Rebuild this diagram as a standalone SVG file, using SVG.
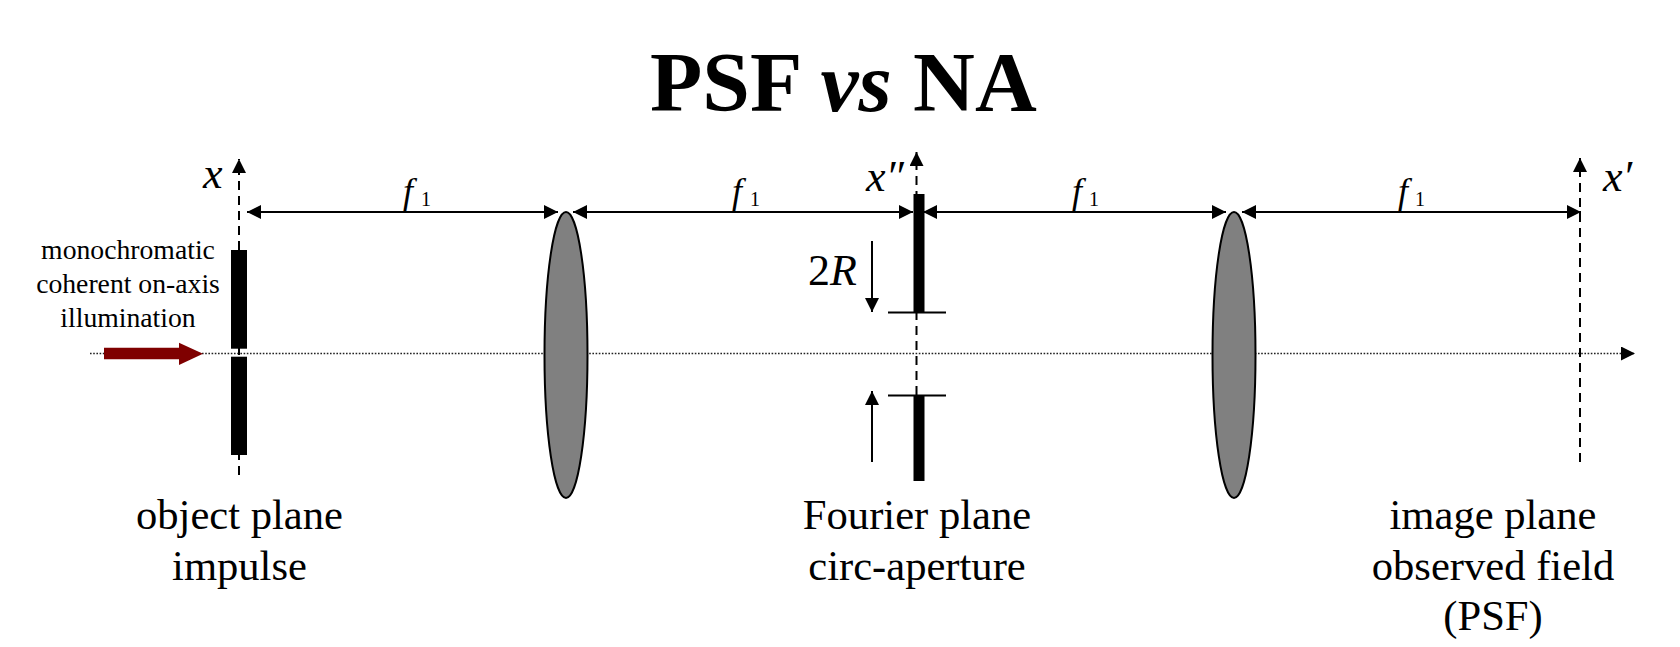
<svg xmlns="http://www.w3.org/2000/svg" width="1680" height="647" viewBox="0 0 1680 647">
<style>
text{font-family:"Liberation Serif","Times New Roman",serif;fill:#000}
.title{font-size:85.6px;font-weight:bold}
.cap{font-size:42.6px;text-anchor:middle}
.small{font-size:27.7px;text-anchor:middle}
.var{font-size:44px;font-style:italic}
.f{font-size:36px;font-style:italic}
.sub{font-size:20px}
.axis{stroke:#222;stroke-width:1.6;stroke-dasharray:1.6 1.6;fill:none}
.dash{stroke:#000;stroke-width:2;stroke-dasharray:9 6;fill:none}
.line{stroke:#000;stroke-width:2;fill:none}
.lens{fill:#808080;stroke:#000;stroke-width:2}
.h{fill:#000}
</style>
<defs>
<marker id="a" viewBox="0 0 14 14" refX="14" refY="7" markerWidth="14" markerHeight="14" markerUnits="userSpaceOnUse" orient="auto-start-reverse"><path d="M0 0L14 7L0 14Z" class="h"/></marker>
</defs>
<rect width="1680" height="647" fill="#fff"/>
<g id="connectors">
<line class="axis" x1="90" y1="353.5" x2="1635" y2="353.5" marker-end="url(#a)"/>
<line class="dash" x1="239" y1="475" x2="239" y2="159" marker-end="url(#a)"/>
<line class="dash" x1="916.5" y1="395" x2="916.5" y2="152" marker-end="url(#a)"/>
<line class="dash" x1="1580" y1="462" x2="1580" y2="158" marker-end="url(#a)"/>
<line class="line" x1="247" y1="212" x2="558" y2="212" marker-start="url(#a)" marker-end="url(#a)"/>
<line class="line" x1="573" y1="212" x2="913" y2="212" marker-start="url(#a)" marker-end="url(#a)"/>
<line class="line" x1="923" y1="212" x2="1226" y2="212" marker-start="url(#a)" marker-end="url(#a)"/>
<line class="line" x1="1242" y1="212" x2="1581" y2="212" marker-start="url(#a)" marker-end="url(#a)"/>
<line class="line" x1="872" y1="241" x2="872" y2="312" marker-end="url(#a)"/>
<line class="line" x1="872" y1="462" x2="872" y2="391" marker-end="url(#a)"/>
<path d="M104 347.7H179V342.7L203 353.8L179 365V359.3H104Z" fill="#7f0000"/>
</g>
<g id="title"><text class="title" x="650" y="111">PSF <tspan font-style="italic">vs</tspan> NA</text></g>
<g id="object-plane">
<rect x="231" y="250" width="16" height="98.7"/>
<rect x="231" y="356.7" width="16" height="98.3"/>
<text class="var" x="203" y="188" font-size="42">x</text>
<text class="cap" x="239.500" y="529">object plane</text>
<text class="cap" x="239.500" y="580">impulse</text>
</g>
<g id="illumination">
<text class="small" x="128" y="259">monochromatic</text>
<text class="small" x="128" y="293">coherent on-axis</text>
<text class="small" x="128" y="327">illumination</text>
</g>
<g id="lens-1"><ellipse class="lens" cx="566" cy="355" rx="21.5" ry="143"/></g>
<g id="fourier-plane">
<rect x="913.5" y="194" width="11" height="119"/>
<rect x="913.5" y="395" width="11" height="86"/>
<line class="line" x1="888" y1="312.5" x2="946" y2="312.5"/>
<line class="line" x1="888" y1="395.5" x2="946" y2="395.5"/>
<text class="var" x="866" y="191">x″</text>
<text x="808" y="285" font-size="44">2<tspan font-style="italic">R</tspan></text>
<text class="cap" x="917" y="529">Fourier plane</text>
<text class="cap" x="917" y="580">circ-aperture</text>
</g>
<g id="lens-2"><ellipse class="lens" cx="1234" cy="355" rx="21.5" ry="143"/></g>
<g id="image-plane">
<text class="var" x="1603" y="191">x′</text>
<text class="cap" x="1493" y="529">image plane</text>
<text class="cap" x="1493" y="580">observed field</text>
<text class="cap" x="1493" y="630">(PSF)</text>
</g>
<g id="f-labels">
<text class="f" x="403" y="203">f</text><text class="sub" x="421" y="206">1</text>
<text class="f" x="732" y="203">f</text><text class="sub" x="750" y="206">1</text>
<text class="f" x="1072" y="203">f</text><text class="sub" x="1089" y="206">1</text>
<text class="f" x="1398" y="203">f</text><text class="sub" x="1415" y="206">1</text>
</g>
</svg>
